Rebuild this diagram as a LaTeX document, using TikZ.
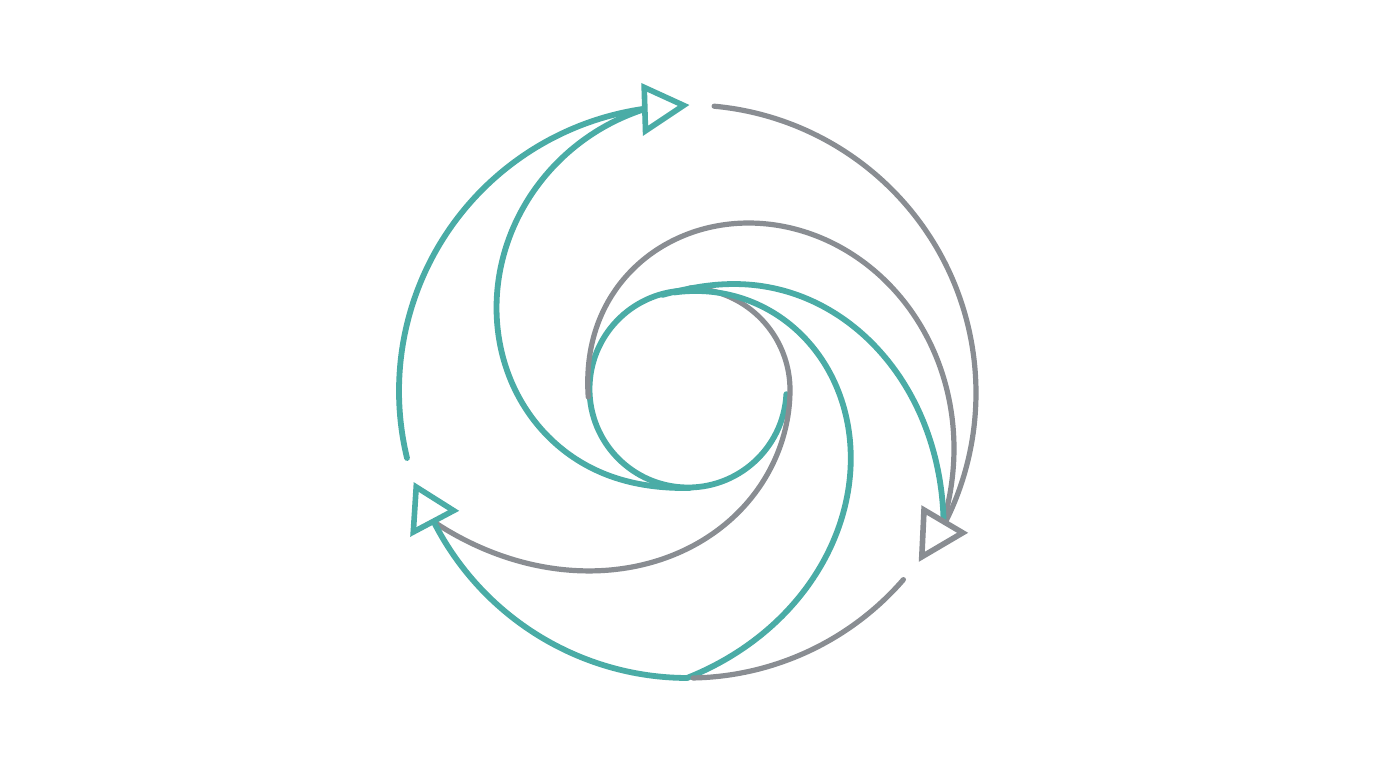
\documentclass[tikz,border=0pt]{standalone}
\definecolor{tealc}{RGB}{74,172,166}
\definecolor{grayc}{RGB}{137,141,146}
\begin{document}
\begin{tikzpicture}[x=1pt,y=-1pt,
  tl/.style={draw=tealc,line width=5.8pt,line cap=round,line join=round},
  gl/.style={draw=grayc,line width=5.2pt,line cap=round,line join=round},
  headt/.style={draw=tealc,fill=white,line width=5.6pt,line join=miter},
  headg/.style={draw=grayc,fill=white,line width=5.6pt,line join=miter},
  declare function={
    gu(\a)=(\a-176)/100;
    rgtwo(\a)=100+80.7*gu(\a)*gu(\a)-18.34*gu(\a)*gu(\a)*gu(\a);
    gv(\a)=max(\a-360,0)/100;
    rgthree(\a)=102+55.86*gv(\a)*gv(\a)+15.29*gv(\a)*gv(\a)*gv(\a);
    aw(\a)=(\a-255)/100;
    rta(\a)=98.5+117.97*aw(\a)*aw(\a)-7.49*aw(\a)*aw(\a)*aw(\a);
    bw(\a)=(\a-262)/10;
    rtb(\a)=98.5+0.535*bw(\a)*bw(\a);
    tt(\a)=(\a-89)/172;
    rttwo(\a)=98+186*tt(\a)*tt(\a)*(1.535+0.207*tt(\a)-0.7417*tt(\a)*tt(\a));
  }]
\useasboundingbox (0,0) rectangle (1376,768);
\fill[white] (0,0) rectangle (1376,768);

% inner teal circle (three quarters)
\draw[tl] (688,389) ++(3:98.5) arc[start angle=3, end angle=270, radius=98.5];

% teal outer arc, left, into the top arrow
\draw[tl] (684,391) ++(166.4:285) arc[start angle=166.4, end angle=262, radius=285];

% teal inner spiral into the top arrow
\draw[tl] plot[domain=89:261.2, samples=120, smooth, variable=\a]
  ({688+rttwo(\a)*cos(\a)}, {390+rttwo(\a)*sin(\a)});

% gray outer arc, right, into the right arrow
\draw[gl] (688,393) ++(275.2:288) arc[start angle=275.2, end angle=386.6, radius=288];

% gray spiral into the right arrow
\draw[gl] plot[domain=176:387.1, samples=140, smooth, variable=\a]
  ({688+rgtwo(\a)*cos(\a)}, {390+rgtwo(\a)*sin(\a)});

% gray spiral into the lower-left arrow
\draw[gl] plot[domain=271:512.6, samples=160, smooth, variable=\a]
  ({688+rgthree(\a)*cos(\a)}, {390+rgthree(\a)*sin(\a)});

% teal spiral into the right arrow
\draw[tl] plot[domain=255:387.1, samples=120, smooth, variable=\a]
  ({688+rta(\a)*cos(\a)}, {390+rta(\a)*sin(\a)});

% teal spiral down to the bottom of the ring
\draw[tl] plot[domain=262:450.2, samples=140, smooth, variable=\a]
  ({688+rtb(\a)*cos(\a)}, {390+rtb(\a)*sin(\a)});

% teal outer arc, bottom-left, into the lower-left arrow
\draw[tl] (688,393) ++(90.2:285) arc[start angle=90.2, end angle=153.2, radius=285];

% gray outer arc, bottom-right
\draw[gl] (688,393) ++(40.9:285) arc[start angle=40.9, end angle=89, radius=285];

% arrowheads
\draw[headt] (644.2,87.4) -- (683.6,105.4) -- (645.5,130.8) -- cycle;
\draw[headg] (924,510) -- (962.6,532.8) -- (921.8,556.8) -- cycle;
\draw[headt] (416.2,487) -- (453.6,510.6) -- (413.3,532) -- cycle;
\end{tikzpicture}
\end{document}
